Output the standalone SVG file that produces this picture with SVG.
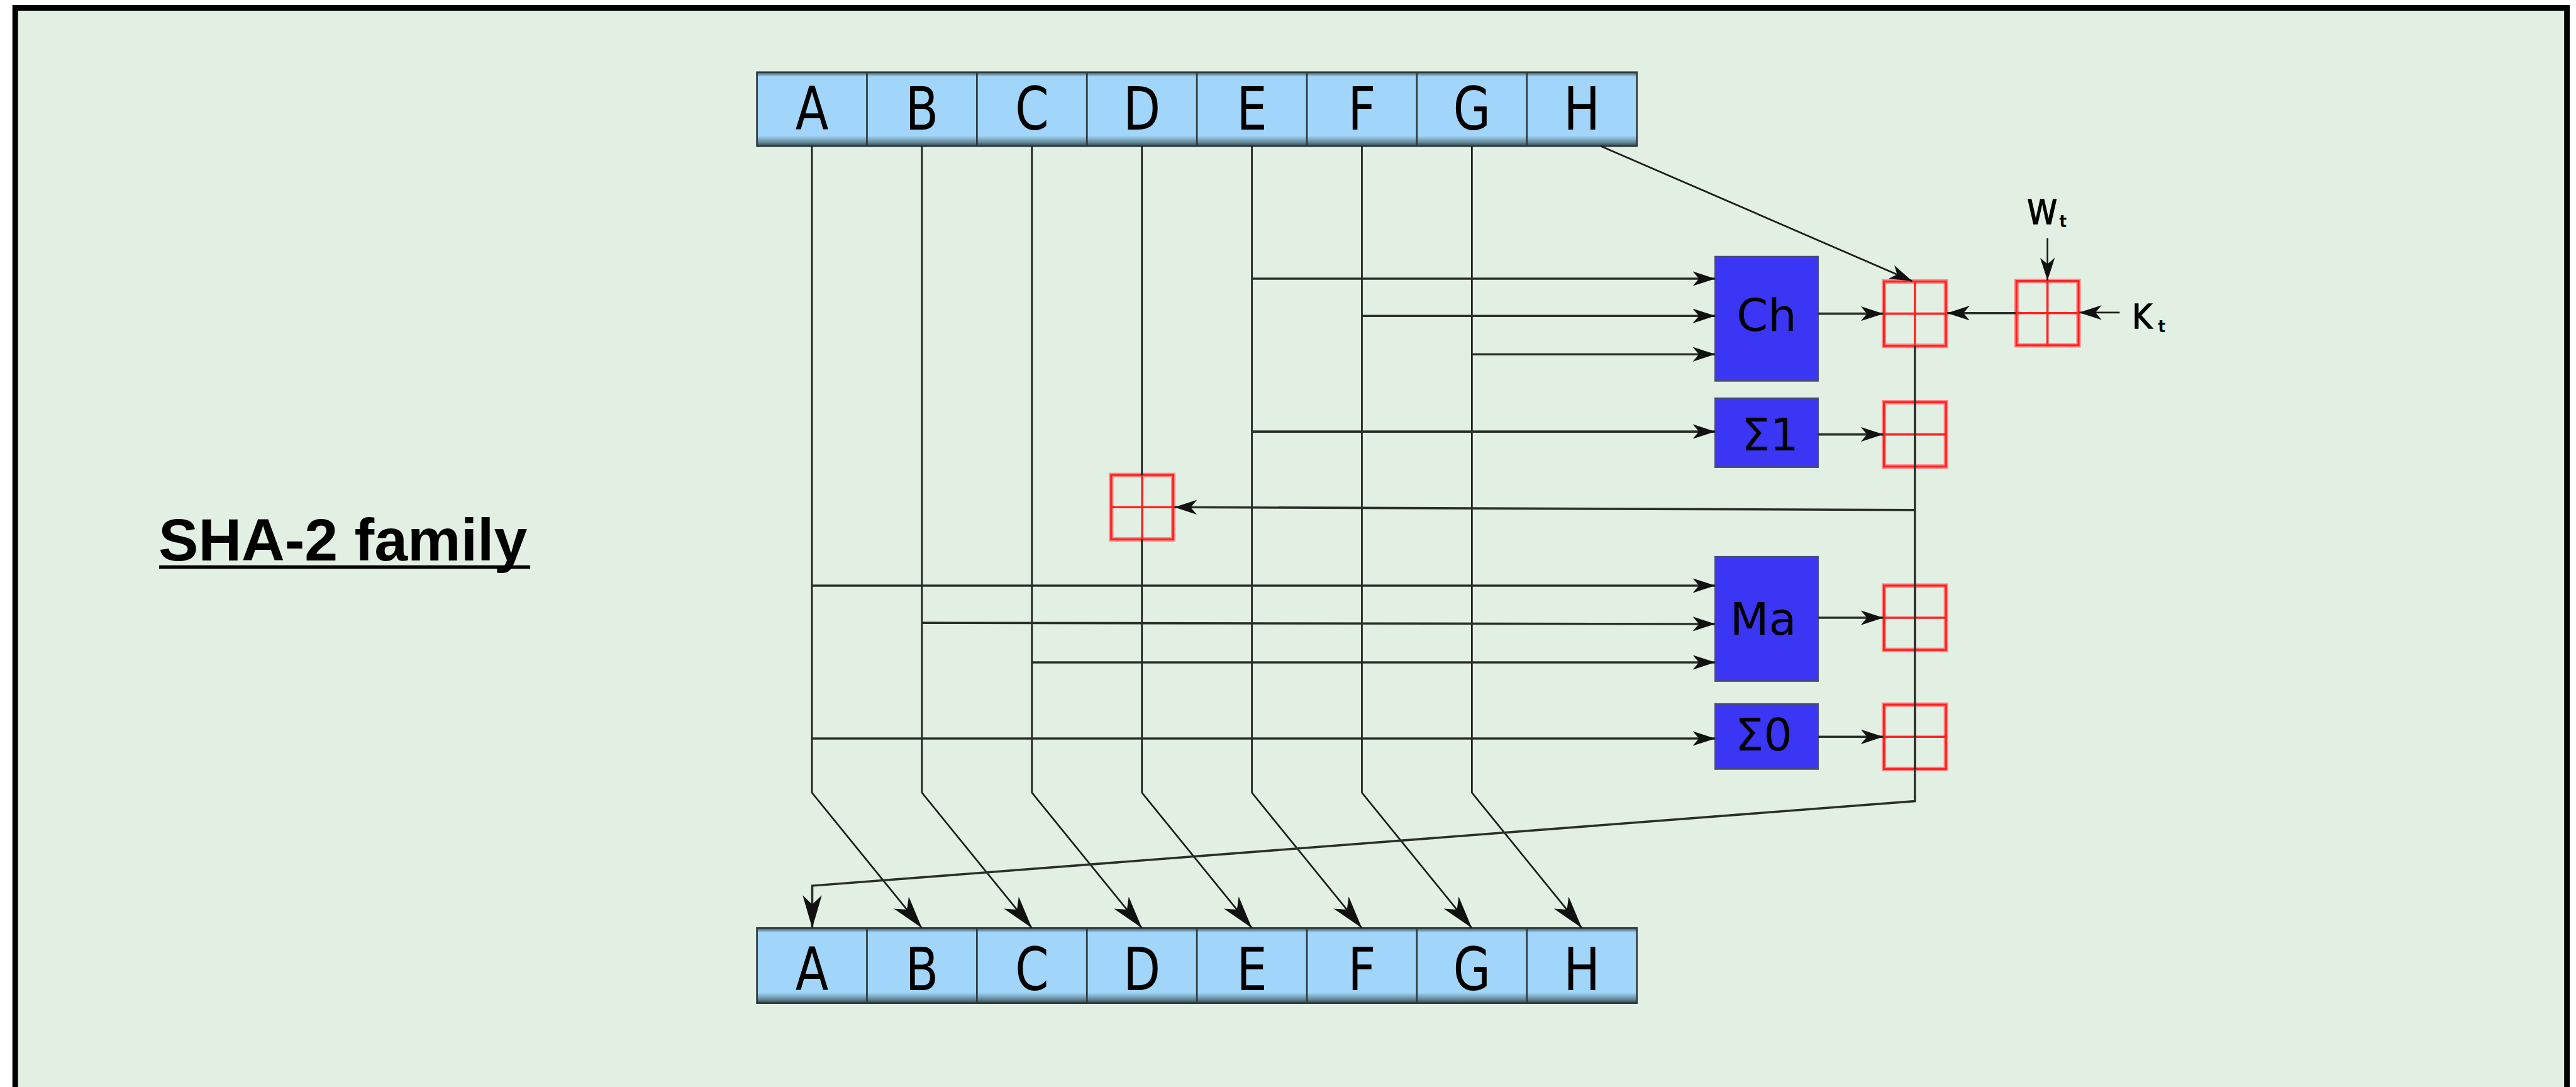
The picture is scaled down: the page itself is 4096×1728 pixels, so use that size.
<svg xmlns="http://www.w3.org/2000/svg" width="4096" height="1728" viewBox="0 0 4096 1728">
  <style>
    .reg-letter { font-family: 'DejaVu Sans Condensed', 'DejaVu Sans', sans-serif; font-size: 106px; fill: #000; text-anchor: middle; }
    .fn-label { font-family: 'DejaVu Sans', sans-serif; font-size: 80px; fill: #000; text-anchor: middle; }
    .in-label { font-family: 'DejaVu Sans Condensed', 'DejaVu Sans', sans-serif; font-size: 60px; fill: #000; stroke: #000; stroke-width: 1.5; }
    .in-sub { font-family: 'DejaVu Sans Condensed', 'DejaVu Sans', sans-serif; font-size: 30px; font-weight: bold; fill: #000; }
    .title { font-family: 'Liberation Sans', Arial, sans-serif; font-weight: bold; font-size: 106px; fill: #000; }
    .fn-box { fill: #3a36f4; stroke: #4b4b78; stroke-width: 3; }
    .reg-box { fill: url(#regShade); stroke: #2e3a3f; stroke-width: 3; }
    .reg-div { stroke: #2e3a3f; stroke-width: 3; }
    .add-halo { fill: none; stroke: #f88; stroke-width: 8; }
    .add-edge { fill: none; stroke: #f22; stroke-width: 3.5; }
    .add-cross { stroke: #f22; stroke-width: 4; }
    .wire { fill: none; stroke: #1c1c1c; stroke-width: 3; }
    .wire-h { fill: none; stroke: #2a2f2a; stroke-width: 4; }
  </style>
  <defs>
    <linearGradient id="regShade" x1="0" y1="0" x2="0" y2="1">
      <stop offset="0" stop-color="#3e545c"/>
      <stop offset="0.06" stop-color="#a2d5fa"/>
      <stop offset="0.86" stop-color="#a2d5fa"/>
      <stop offset="0.95" stop-color="#628896"/>
      <stop offset="1" stop-color="#34444a"/>
    </linearGradient>
    <marker id="arrS" markerUnits="userSpaceOnUse" viewBox="0 0 40 26" refX="40" refY="13" markerWidth="40" markerHeight="26" orient="auto">
      <path d="M40,13 L0,0 L11,13 L0,26 Z" fill="#111"/>
    </marker>
    <marker id="arrL" markerUnits="userSpaceOnUse" viewBox="0 0 58 34" refX="58" refY="17" markerWidth="58" markerHeight="34" orient="auto">
      <path d="M58,17 L0,0 L16,17 L0,34 Z" fill="#111"/>
    </marker>
    <!-- modular adder symbol, centred on the origin -->
    <g id="adder">
      <rect x="-55" y="-57" width="110" height="114" class="add-halo"/>
      <rect x="-55" y="-57" width="110" height="114" class="add-edge"/>
      <line x1="-55" y1="0" x2="55" y2="0" class="add-cross"/>
      <line x1="0" y1="-57" x2="0" y2="57" class="add-cross"/>
    </g>
  </defs>

  <rect x="0" y="0" width="4096" height="1728" fill="#fff"/>

  <g transform="scale(0.89687)">
    <!-- panel -->
    <rect x="27" y="14" width="4524" height="2000" fill="#e2f0e3" stroke="#000" stroke-width="10"/>

    <g id="title">
      <text class="title" x="281" y="993">SHA-2 family</text>
      <rect x="282" y="1002" width="658" height="6" fill="#000"/>
    </g>

    <!-- working registers before the round (letters narrowed to 0.9 width) -->
    <g id="reg-in">
      <rect class="reg-box" x="1342" y="128" width="1560" height="131"/>
      <path class="reg-div" d="M1537,128V259M1732,128V259M1927,128V259M2122,128V259M2317,128V259M2512,128V259M2707,128V259"/>
      <g transform="scale(0.9 1)">
        <text class="reg-letter" x="1599.4" y="230">A</text>
        <text class="reg-letter" x="1816.1" y="230">B</text>
        <text class="reg-letter" x="2032.8" y="230">C</text>
        <text class="reg-letter" x="2249.4" y="230">D</text>
        <text class="reg-letter" x="2466.1" y="230">E</text>
        <text class="reg-letter" x="2682.8" y="230">F</text>
        <text class="reg-letter" x="2899.4" y="230">G</text>
        <text class="reg-letter" x="3116.1" y="230">H</text>
      </g>
    </g>

    <!-- working registers after the round -->
    <g id="reg-out">
      <rect class="reg-box" x="1342" y="1645" width="1560" height="133"/>
      <path class="reg-div" d="M1537,1645V1778M1732,1645V1778M1927,1645V1778M2122,1645V1778M2317,1645V1778M2512,1645V1778M2707,1645V1778"/>
      <g transform="scale(0.9 1)">
        <text class="reg-letter" x="1599.4" y="1755">A</text>
        <text class="reg-letter" x="1816.1" y="1755">B</text>
        <text class="reg-letter" x="2032.8" y="1755">C</text>
        <text class="reg-letter" x="2249.4" y="1755">D</text>
        <text class="reg-letter" x="2466.1" y="1755">E</text>
        <text class="reg-letter" x="2682.8" y="1755">F</text>
        <text class="reg-letter" x="2899.4" y="1755">G</text>
        <text class="reg-letter" x="3116.1" y="1755">H</text>
      </g>
    </g>

    <!-- round functions -->
    <g id="fn-ch">
      <rect class="fn-box" x="3041" y="455" width="182" height="220"/>
      <text class="fn-label" x="3132" y="587">Ch</text>
    </g>
    <g id="fn-sigma1">
      <rect class="fn-box" x="3041" y="706" width="182" height="122"/>
      <text class="fn-label" x="3138" y="798">Σ1</text>
    </g>
    <g id="fn-ma">
      <rect class="fn-box" x="3041" y="987" width="182" height="220"/>
      <text class="fn-label" x="3126" y="1125">Ma</text>
    </g>
    <g id="fn-sigma0">
      <rect class="fn-box" x="3041" y="1248" width="182" height="115"/>
      <text class="fn-label" x="3127" y="1330">Σ0</text>
    </g>

    <!-- modular additions -->
    <g id="add-h"><use href="#adder" x="3395" y="556"/></g>
    <g id="add-sigma1"><use href="#adder" x="3395" y="770"/></g>
    <g id="add-ma"><use href="#adder" x="3395" y="1095"/></g>
    <g id="add-sigma0"><use href="#adder" x="3395" y="1306"/></g>
    <g id="add-wk"><use href="#adder" x="3630" y="555"/></g>
    <g id="add-d"><use href="#adder" x="2025" y="899"/></g>

    <!-- round inputs -->
    <g id="in-w">
      <text class="in-label" x="3594" y="397">W</text>
      <text class="in-sub" x="3651" y="403">t</text>
    </g>
    <g id="in-k">
      <text class="in-label" x="3780" y="582">K</text>
      <text class="in-sub" x="3826" y="589">t</text>
    </g>

    <g id="connectors">
      <!-- register shift paths -->
      <path class="wire" d="M1439.5,259V1405L1634.5,1645" marker-end="url(#arrL)"/>
      <path class="wire" d="M1634.5,259V1405L1829.5,1645" marker-end="url(#arrL)"/>
      <path class="wire" d="M1829.5,259V1405L2024.5,1645" marker-end="url(#arrL)"/>
      <path class="wire" d="M2024.5,259V842M2024.5,956V1405L2219.5,1645" marker-end="url(#arrL)"/>
      <path class="wire" d="M2219.5,259V1405L2414.5,1645" marker-end="url(#arrL)"/>
      <path class="wire" d="M2414.5,259V1405L2609.5,1645" marker-end="url(#arrL)"/>
      <path class="wire" d="M2609.5,259V1405L2804.5,1645" marker-end="url(#arrL)"/>
      <path class="wire" d="M2838,259L3390,498" marker-end="url(#arrS)"/>

      <!-- function inputs -->
      <path class="wire-h" d="M2219.5,494H3041" marker-end="url(#arrS)"/>
      <path class="wire-h" d="M2414.5,560H3041" marker-end="url(#arrS)"/>
      <path class="wire-h" d="M2609.5,628H3041" marker-end="url(#arrS)"/>
      <path class="wire-h" d="M2219.5,765H3041" marker-end="url(#arrS)"/>
      <path class="wire-h" d="M1439.5,1038H3041" marker-end="url(#arrS)"/>
      <path class="wire-h" d="M1634.5,1104L3041,1106" marker-end="url(#arrS)"/>
      <path class="wire-h" d="M1829.5,1174H3041" marker-end="url(#arrS)"/>
      <path class="wire-h" d="M1439.5,1309H3041" marker-end="url(#arrS)"/>

      <!-- function outputs -->
      <path class="wire-h" d="M3223,556H3339" marker-end="url(#arrS)"/>
      <path class="wire-h" d="M3223,770H3339" marker-end="url(#arrS)"/>
      <path class="wire-h" d="M3223,1095H3339" marker-end="url(#arrS)"/>
      <path class="wire-h" d="M3223,1306H3339" marker-end="url(#arrS)"/>

      <!-- W, K -->
      <path class="wire" d="M3630,422V497" marker-end="url(#arrS)"/>
      <path class="wire" d="M3758,554H3686" marker-end="url(#arrS)"/>
      <path class="wire-h" d="M3574,555H3452" marker-end="url(#arrS)"/>

      <!-- sum bus and feedback -->
      <path class="wire-h" d="M3395,613V1420L1440,1570V1645" marker-end="url(#arrL)"/>
      <path class="wire-h" d="M3395,904L2082,899" marker-end="url(#arrS)"/>
    </g>
  </g>
</svg>
